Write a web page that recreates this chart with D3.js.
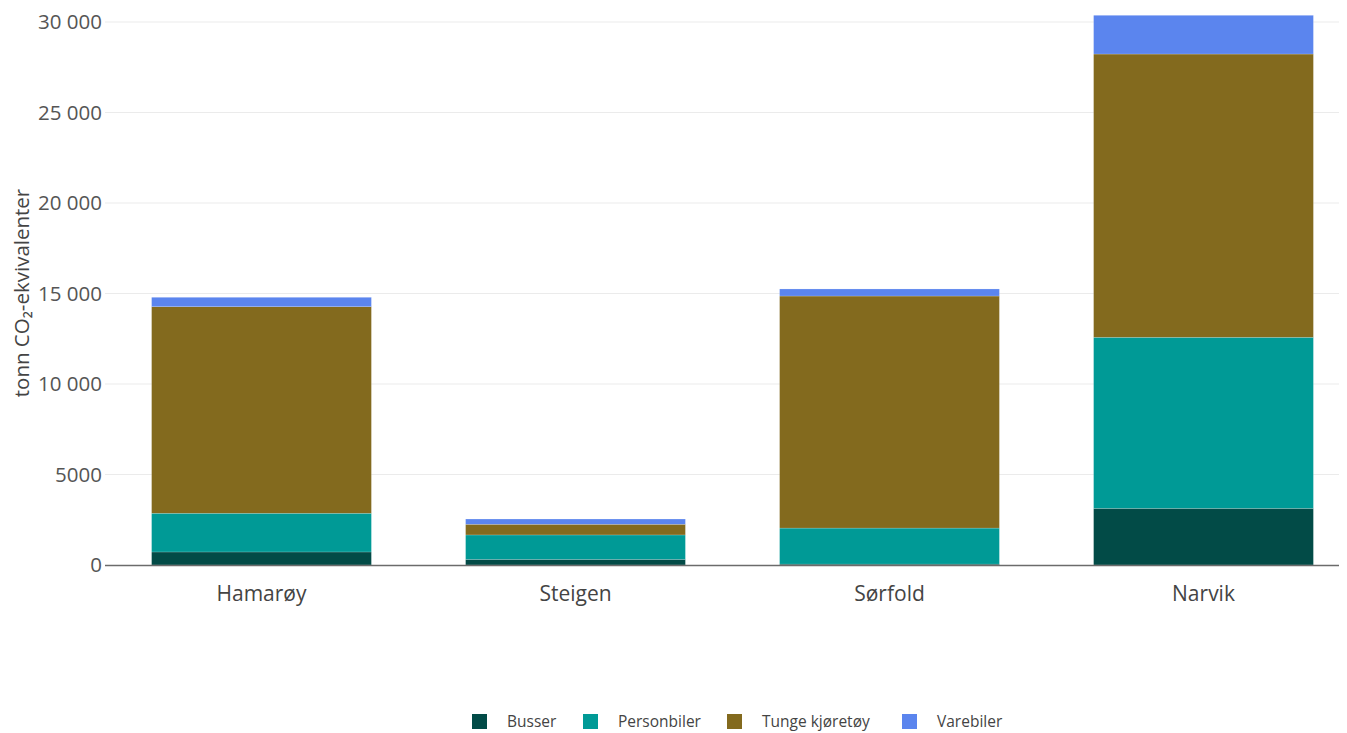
<!DOCTYPE html>
<html><head><meta charset="utf-8">
<script src="https://cdn.jsdelivr.net/npm/d3@7"></script>
<style>body{margin:0;background:#fff;font-family:"Open Sans",sans-serif;}</style>
</head><body>
<svg id="c" width="1347" height="733"></svg>
<script>
const categories = ["Hamarøy","Steigen","Sørfold","Narvik"];
const seriesNames = ["Busser","Personbiler","Tunge kjøretøy","Varebiler"];
const busser = [720, 310, 50, 3130];
const personbiler = [2140, 1350, 1990, 9450];
const tunge = [11410, 590, 12820, 15650];
const varebiler = [520, 290, 390, 2140];
const yTicks = [0, 5000, 10000, 15000, 20000, 25000, 30000];
const colors = ["#024b47", "#009a96", "#836a1e", "#5b85ee"];

(function () {
const svg = d3.select("#c");
const pLeft = 105, pRight = 1339, pTop = 22, pBottom = 565;
const x = d3.scaleBand().domain(categories).range([104.5, 1360.5]).paddingInner(0.3).paddingOuter(0.15);
const y = d3.scaleLinear().domain([0, 30000]).range([pBottom, pTop]);

const rows = categories.map((c, i) => ({cat: c, Busser: busser[i], Personbiler: personbiler[i], "Tunge kjøretøy": tunge[i], Varebiler: varebiler[i]}));
const stack = d3.stack().keys(seriesNames)(rows);

// grid
svg.append("g").selectAll("line").data(yTicks.filter(d => d > 0)).join("line")
  .attr("x1", pLeft).attr("x2", pRight).attr("y1", d => y(d)).attr("y2", d => y(d))
  .attr("stroke", "#ebebeb").attr("stroke-width", 1);

// bars
svg.append("g").selectAll("g").data(stack).join("g")
  .attr("fill", (d, i) => colors[i])
  .selectAll("rect").data(d => d).join("rect")
  .attr("x", d => x(d.data.cat)).attr("width", x.bandwidth())
  .attr("y", d => y(d[1])).attr("height", d => y(d[0]) - y(d[1]))
  .attr("stroke", "rgba(255,255,255,0.35)").attr("stroke-width", 0.5);

// axis line
svg.append("line").attr("x1", pLeft).attr("x2", pRight).attr("y1", pBottom + 0.5).attr("y2", pBottom + 0.5)
  .attr("stroke", "#6b6b6b").attr("stroke-width", 1.5);

// y tick labels
const fmt = v => v >= 10000 ? d3.format(",")(v).replace(/,/g, " ") : String(v);
const yAxis = d3.axisLeft(y).tickValues(yTicks).tickSize(0).tickPadding(0).tickFormat(fmt);
const ya = svg.append("g").attr("transform", `translate(${pLeft - 3},0)`).call(yAxis);
ya.select(".domain").remove();
ya.selectAll("text").attr("font-family", "'Open Sans', sans-serif").attr("font-size", 20.5).attr("fill", "#555").attr("dy", "0.34em");

// x labels
const xAxis = d3.axisBottom(x).tickSize(0).tickPadding(0);
const xa = svg.append("g").attr("transform", `translate(0,${pBottom + 29})`).call(xAxis);
xa.select(".domain").remove();
xa.selectAll("text").attr("font-family", "'Open Sans', sans-serif").attr("font-size", 21).attr("fill", "#444").attr("dy", "0.34em");

// y title
svg.append("text").attr("transform", `translate(29,293) rotate(-90)`)
  .attr("text-anchor", "middle").attr("font-size", 20.5).attr("fill", "#444")
  .text("tonn CO\u2082-ekvivalenter");

// legend
const legX = [472, 583, 727, 902];
const lg = svg.append("g").selectAll("g").data(seriesNames).join("g")
  .attr("transform", (d, i) => `translate(${legX[i]},714)`);
lg.append("rect").attr("width", 15).attr("height", 15).attr("fill", (d, i) => colors[i]);
lg.append("text").attr("x", 35).attr("y", 8).attr("dy", "0.35em").attr("font-size", 15.5).attr("fill", "#444").text(d => d);
})();
</script>
</body></html>
